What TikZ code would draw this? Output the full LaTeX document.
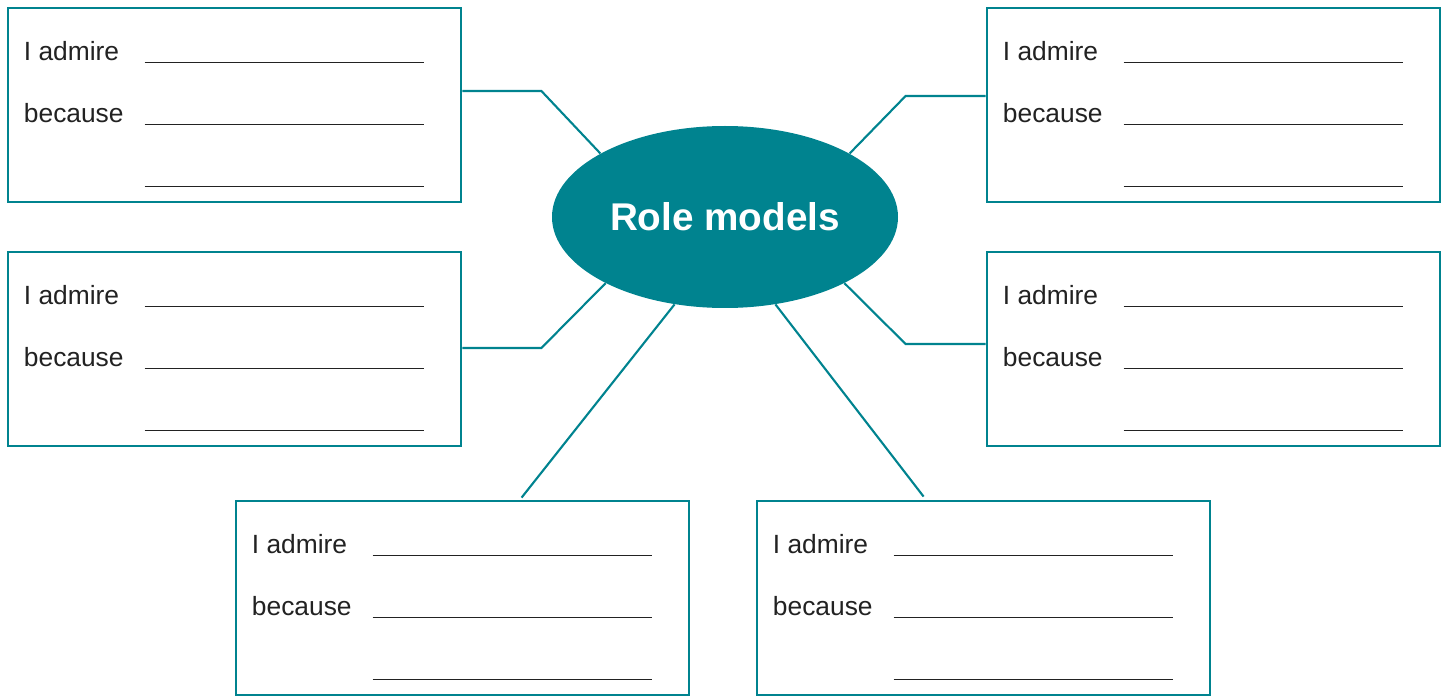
\documentclass[tikz,border=0pt]{standalone}
\usepackage{fontspec}
\setmainfont{Liberation Sans}
\usetikzlibrary{shapes.geometric, calc}

\definecolor{rmteal}{HTML}{00838F}
\definecolor{rmink}{HTML}{222222}

\tikzset{
  formbox/.style ={draw=rmteal, line width=1.6pt, fill=white,
                   minimum width=9.06cm, minimum height=3.88cm,
                   inner sep=0pt},
  hub/.style     ={ellipse, fill=rmteal, draw=none,
                   minimum width=6.92cm, minimum height=3.64cm,
                   inner sep=0pt, text=white,
                   font=\fontsize{22}{26}\selectfont\bfseries},
  prompt/.style  ={anchor=base west, inner sep=0pt, text=rmink,
                   font=\fontsize{15}{18}\selectfont},
  blank/.style   ={draw=rmink, line width=0.6pt},
  link/.style    ={draw=rmteal, line width=1.2pt},
}

% one answer card: box, two prompts and three blank lines
\newcommand{\answercard}[2]{%
  \node[formbox] (#1) at (#2) {};
  \node[prompt] (#1-adm) at ($(#1.north west)+(0.34,-1.08)$) {I admire};
  \node[prompt] (#1-bec) at ($(#1.north west)+(0.34,-2.32)$) {because};
  \foreach \dy in {1.12,2.36,3.60}
    \draw[blank] ($(#1.north west)+(2.76,-\dy)$) -- ++(5.58,0);
}

\begin{document}
\begin{tikzpicture}

\useasboundingbox (0,0) rectangle (29,-13.92);

%% centre
\node[hub] (rm) at (14.5,-4.34) {Role models};

%% cards
\answercard{tl}{4.69,-2.10}
\answercard{ml}{4.69,-6.98}
\answercard{tr}{24.27,-2.10}
\answercard{mr}{24.27,-6.98}
\answercard{bl}{9.25,-11.96}
\answercard{br}{19.67,-11.96}

%% links from cards to the centre
\draw[link] ($(tl.east)+(0,0.28)$) -- ++(1.58,0) -- (rm.153);
\draw[link] ($(ml.east)+(0,0.02)$) -- ++(1.58,0) -- (rm.209);
\draw[link] ($(tr.west)+(0,0.18)$) -- ++(-1.60,0) -- (rm.27);
\draw[link] ($(mr.west)+(0,0.10)$) -- ++(-1.60,0) -- (rm.331);
\draw[link] ($(bl.north west)+(5.74,0.04)$) -- (rm.240);
\draw[link] ($(br.north west)+(3.36,0.06)$) -- (rm.300);

\end{tikzpicture}
\end{document}
